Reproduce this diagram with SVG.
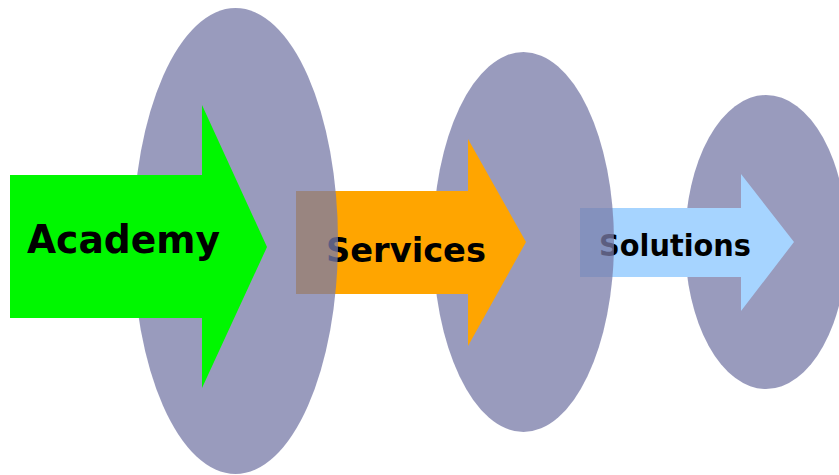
<svg xmlns="http://www.w3.org/2000/svg" width="839" height="475" viewBox="0 0 839 475">
<style>
.ell{fill:#797ca8;fill-opacity:0.76}
.lbl{font-family:"DejaVu Sans","Liberation Sans",sans-serif;font-weight:bold;fill:#000}
</style>
<rect width="839" height="475" fill="#fff"/>
<g id="stage3">
<ellipse class="ell" cx="766" cy="242" rx="81" ry="147"/>
<g id="solutions">
<polygon points="580,208 741,208 741,174 794,242 741,311 741,277 580,277" fill="#a6d4ff"/>
<text class="lbl" x="599" y="256" font-size="29.5" textLength="152" lengthAdjust="spacingAndGlyphs">Solutions</text>
</g>
</g>
<g id="stage2">
<ellipse class="ell" cx="523.5" cy="242" rx="90.5" ry="190"/>
<g id="services">
<polygon points="296,191 468,191 468,139 526,242 468,346 468,294 296,294" fill="#ffa500"/>
<text class="lbl" x="326" y="262" font-size="34.5" textLength="160" lengthAdjust="spacingAndGlyphs">Services</text>
</g>
</g>
<g id="stage1">
<ellipse class="ell" cx="235.5" cy="241" rx="102.5" ry="233"/>
<g id="academy">
<polygon points="10,175 202,175 202,105 267,247 202,388 202,318 10,318" fill="#00f700"/>
<text class="lbl" x="27" y="253" font-size="38.5" textLength="193" lengthAdjust="spacingAndGlyphs">Academy</text>
</g>
</g>
<g id="connectors"/>
</svg>
